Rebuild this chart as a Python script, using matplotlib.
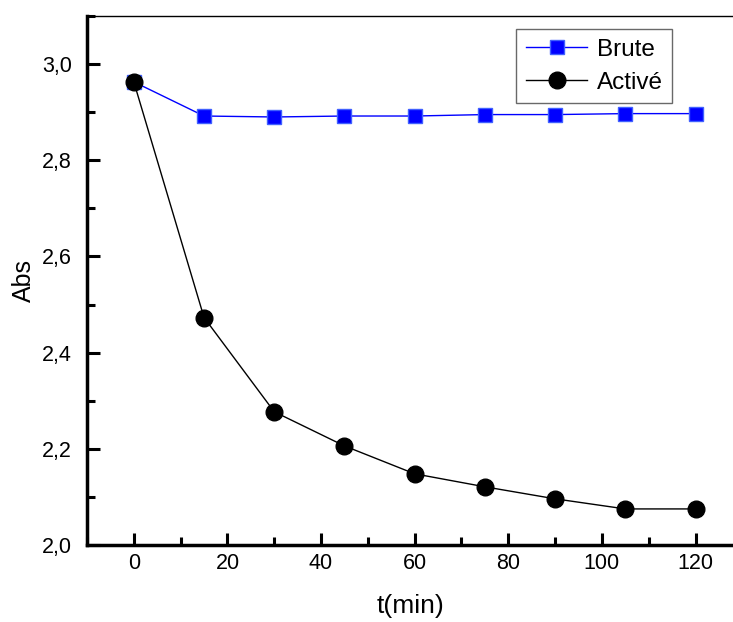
import numpy as np
import matplotlib
matplotlib.use('Agg')
from matplotlib import pyplot as plt
from matplotlib.ticker import MultipleLocator, FuncFormatter

t = [0, 15, 30, 45, 60, 75, 90, 105, 120]
brute = [2.963, 2.892, 2.890, 2.892, 2.892, 2.895, 2.895, 2.897, 2.897]
active = [2.963, 2.473, 2.277, 2.206, 2.148, 2.121, 2.096, 2.075, 2.075]

plt.rcParams['font.family'] = ['Liberation Sans', 'DejaVu Sans']

fig = plt.figure(figsize=(7.33, 6.22), dpi=100)
ax = fig.add_axes([0.1187, 0.1238, 0.8813, 0.8505])

ax.plot(t, brute, color='blue', lw=1, marker='s', markersize=10,
        markeredgecolor='#4060ff', markerfacecolor='blue', label='Brute', zorder=2)
ax.plot(t, active, color='black', lw=1, marker='o', markersize=12,
        label='Activé', zorder=3)

ax.set_xlim(-10, 128)
ax.set_ylim(2.0, 3.1)
ax.xaxis.set_major_locator(MultipleLocator(20))
ax.xaxis.set_minor_locator(MultipleLocator(10))
ax.yaxis.set_major_locator(MultipleLocator(0.2))
ax.yaxis.set_minor_locator(MultipleLocator(0.1))
ax.yaxis.set_major_formatter(FuncFormatter(lambda v, p: f'{v:.1f}'.replace('.', ',')))

ax.tick_params(which='both', direction='in', width=2.2, labelsize=15.5)
ax.tick_params(which='major', length=9)
ax.tick_params(which='minor', length=6)
ax.tick_params(axis='x', pad=6)
ax.tick_params(axis='y', pad=11)
ax.spines['left'].set_linewidth(2.5)
ax.spines['bottom'].set_linewidth(2.5)
ax.spines['top'].set_linewidth(1)
ax.spines['right'].set_visible(False)

ax.set_xlabel('t(min)', fontsize=19, labelpad=14)
ax.set_ylabel('Abs', fontsize=18, labelpad=4)

leg = ax.legend(loc='upper right', bbox_to_anchor=(0.91, 0.98), fontsize=17.5,
                frameon=True, fancybox=False, edgecolor='#444444',
                handlelength=2.5, handletextpad=0.4, borderpad=0.4, labelspacing=0.45,
                borderaxespad=0.1)
leg.get_frame().set_linewidth(1)

fig.savefig('out.png', dpi=100)
